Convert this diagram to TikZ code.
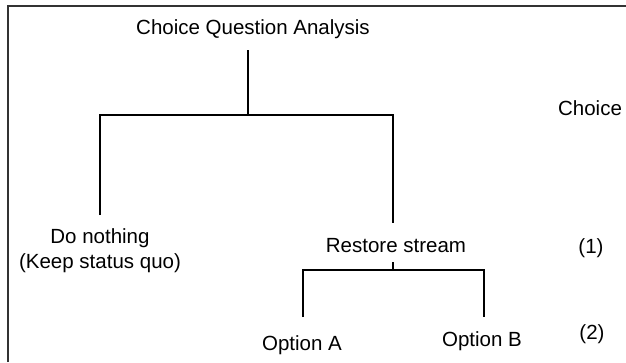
\documentclass[tikz,border=0pt]{standalone}
\usepackage{fontspec}
\setmainfont{Liberation Sans}
\begin{document}
\begin{tikzpicture}[x=1pt,y=-1pt,
  lbl/.style={font=\fontsize{20.5}{25}\selectfont, inner sep=0pt, anchor=base},
  branch/.style={line width=2.2pt, black},
  frame/.style={line width=1.6pt, black!80}]
\useasboundingbox (0,0) rectangle (626,362);
% frame (top and left edges only)
\coordinate (fbl) at (8,362);
\coordinate (ftl) at (8,6);
\coordinate (ftr) at (626,6);
\draw[frame] (fbl) -- (ftl) -- (ftr);
% labels
\node[lbl] (title) at (253,34) {Choice Question Analysis};
\node[lbl] (choice) at (590,115) {Choice};
\node[lbl, align=center] (nothing) at (100,268) {Do nothing\\(Keep status quo)};
\node[lbl] (restore) at (396,252) {Restore stream};
\node[lbl] (one) at (591,253) {(1)};
\node[lbl] (optA) at (302,350) {Option A};
\node[lbl] (optB) at (482,346) {Option B};
\node[lbl] (two) at (592,339) {(2)};
% junction coordinates
\coordinate (t0) at (248,50);
\coordinate (t1) at (248,115);
\coordinate (l0) at (100,115);
\coordinate (l1) at (100,215);
\coordinate (r0) at (393,115);
\coordinate (r1) at (393,223);
\coordinate (s0) at (393,262);
\coordinate (s1) at (393,270);
\coordinate (a0) at (303,270);
\coordinate (a1) at (303,317);
\coordinate (b0) at (484,270);
\coordinate (b1) at (484,317);
% connectors
\draw[branch] (t0) -- (t1);
\draw[branch] (l1) -- (l0) -- (r0) -- (r1);
\draw[branch] (s0) -- (s1);
\draw[branch] (a1) -- (a0) -- (b0) -- (b1);
\end{tikzpicture}
\end{document}
